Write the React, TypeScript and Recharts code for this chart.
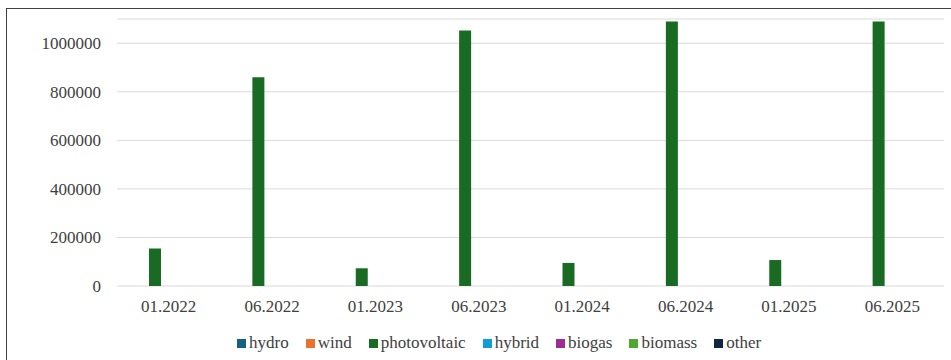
import { BarChart, Bar, XAxis, YAxis, CartesianGrid, Legend } from 'recharts';

const periods = ['01.2022', '06.2022', '01.2023', '06.2023', '01.2024', '06.2024', '01.2025', '06.2025'];
const hydro = [0, 0, 0, 0, 0, 0, 0, 0];
const wind = [0, 0, 0, 0, 0, 0, 0, 0];
const photovoltaic = [155000, 860000, 73000, 1053000, 95000, 1090000, 107000, 1090000];
const hybrid = [0, 0, 0, 0, 0, 0, 0, 0];
const biogas = [0, 0, 0, 0, 0, 0, 0, 0];
const biomass = [0, 0, 0, 0, 0, 0, 0, 0];
const other = [0, 0, 0, 0, 0, 0, 0, 0];
const yTicks = [0, 200000, 400000, 600000, 800000, 1000000];

const series = [
  { key: 'hydro', values: hydro, color: '#156082' },
  { key: 'wind', values: wind, color: '#E97132' },
  { key: 'photovoltaic', values: photovoltaic, color: '#196B24' },
  { key: 'hybrid', values: hybrid, color: '#0F9ED5' },
  { key: 'biogas', values: biogas, color: '#A02B93' },
  { key: 'biomass', values: biomass, color: '#4EA72E' },
  { key: 'other', values: other, color: '#0E2841' },
];

const data = periods.map((p, i) => {
  const row: Record<string, string | number> = { period: p };
  series.forEach((s) => (row[s.key] = s.values[i]));
  return row;
});

const FONT = 'Liberation Serif';
const TEXT = '#404040';

function LegendRow() {
  return (
    <div
      style={{
        display: 'flex',
        alignItems: 'center',
        paddingLeft: 230,
        fontFamily: FONT,
        fontSize: 17,
        color: TEXT,
        height: 34,
      }}
    >
      {series.map((s) => (
        <div key={s.key} style={{ display: 'flex', alignItems: 'center', marginRight: 17 }}>
          <span style={{ width: 9, height: 9, background: s.color, marginRight: 3, display: 'inline-block' }} />
          <span>{s.key}</span>
        </div>
      ))}
    </div>
  );
}

export default function App() {
  return (
    <div
      style={{
        position: 'absolute',
        left: 6,
        top: 8,
        width: 945,
        height: 352,
        borderLeft: '1px solid #3f3f3f',
        borderTop: '1px solid #3f3f3f',
        background: '#fff',
        boxSizing: 'border-box',
        overflow: 'hidden',
        fontFamily: FONT,
      }}
    >
      <BarChart
        width={944}
        height={351}
        data={data}
        margin={{ top: 10, right: 7, left: 0, bottom: 0 }}
        barCategoryGap={8}
        barGap={0}
      >
        <CartesianGrid vertical={false} stroke="#d9d9d9" />
        <XAxis
          dataKey="period"
          axisLine={false}
          tickLine={false}
          height={40}
          tickMargin={8}
          tick={{ fontSize: 17, fill: TEXT, fontFamily: FONT }}
        />
        <YAxis
          width={110}
          domain={[0, 1100000]}
          ticks={yTicks}
          axisLine={false}
          tickLine={false}
          tickMargin={10}
          allowDataOverflow
          tick={{ fontSize: 17, fill: TEXT, fontFamily: FONT }}
        />
        <Legend verticalAlign="bottom" height={34} content={() => <LegendRow />} />
        {series.map((s) => (
          <Bar key={s.key} dataKey={s.key} fill={s.color} isAnimationActive={false} />
        ))}
      </BarChart>
    </div>
  );
}
